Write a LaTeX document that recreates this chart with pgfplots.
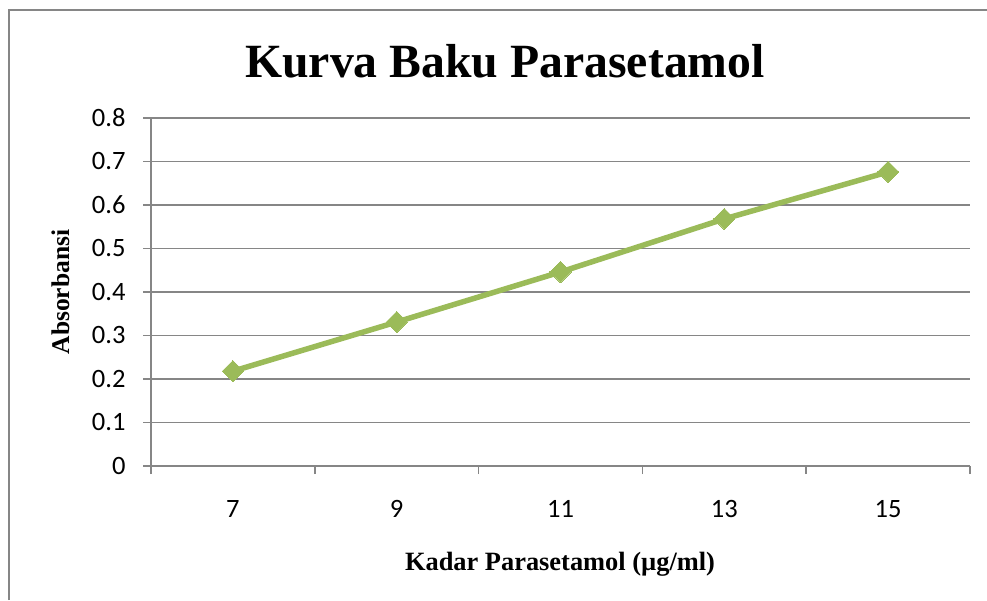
\documentclass[border=0pt]{standalone}
\usepackage{pgfplots}
\pgfplotsset{compat=1.18}
\usepackage{fontspec}
\setmainfont{Liberation Serif}
\newfontfamily\carlito{Carlito}
\definecolor{gridgray}{HTML}{868686}
\definecolor{lgreen}{HTML}{9BBB59}
\begin{document}
\begin{tikzpicture}[x=1pt,y=1pt]
\path[use as bounding box] (0,0) rectangle (987,600);
\draw[gridgray, line width=2pt] (8.5,0) -- (8.5,590) -- (987,590);
\begin{axis}[
  at={(151pt,134pt)}, anchor=south west,
  scale only axis, width=819pt, height=348pt,
  xmin=6, xmax=16, ymin=0, ymax=0.8,
  axis x line*=bottom, axis y line*=left,
  axis line style={gridgray, line width=1.6pt, -},
  xtick={7,9,11,13,15},
  minor xtick={6,8,10,12,14,16},
  major x tick style={draw=none},
  minor x tick style={gridgray, line width=1.6pt},
  minor tick length=8pt,
  ytick={0,0.1,...,0.8},
  yticklabels={0,0.1,0.2,0.3,0.4,0.5,0.6,0.7,0.8},
  major y tick style={gridgray, line width=1.6pt},
  major tick length=8pt,
  tick align=outside,
  ymajorgrids,
  major grid style={gridgray, line width=1.6pt},
  /pgf/number format/assume math mode=true,
  tick label style={font=\carlito\fontsize{26.5}{30}\selectfont, text=black},
  yticklabel style={anchor=east, xshift=-14pt},
  xticklabel style={anchor=base, yshift=-43pt},
  clip=false,
]
\addplot[lgreen, line width=5.5pt, mark=square*, mark size=7.5pt,
  mark options={rotate=45, solid, fill=lgreen, draw=lgreen, line width=0pt}]
  coordinates {(7,0.218) (9,0.331) (11,0.446) (13,0.568) (15,0.676)};
\end{axis}
\node[anchor=base, font=\bfseries\fontsize{47.7}{57}\selectfont] at (505,522) {Kurva Baku Parasetamol};
\node[anchor=base, font=\bfseries\fontsize{26.4}{32}\selectfont] at (560,30) {Kadar Parasetamol (µg/ml)};
\node[anchor=base, rotate=90, font=\bfseries\fontsize{25.5}{30}\selectfont] at (69,308) {Absorbansi};
\end{tikzpicture}
\end{document}
